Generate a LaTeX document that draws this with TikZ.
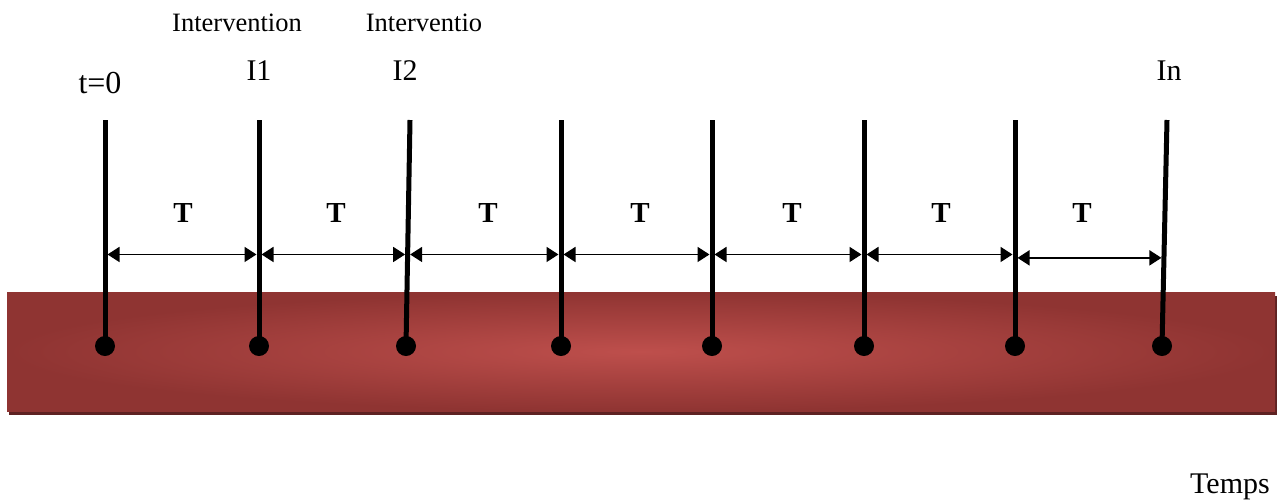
\documentclass[tikz,border=0pt]{standalone}
\usepackage{fontspec}
\setmainfont{Liberation Serif}
\usetikzlibrary{arrows.meta}
\definecolor{barEdge}{HTML}{8F3432}
\definecolor{barMid}{HTML}{BE4F4C}
\definecolor{barShadow}{HTML}{5E2222}
\tikzset{
  stem/.style={line width=5pt, line cap=butt},
  pin/.style={circle, fill=black, inner sep=0pt, minimum size=20pt},
  span/.style={line width=1.7pt, {Triangle[length=12pt,width=15pt]}-{Triangle[length=12pt,width=15pt]}, shorten <=2.5pt, shorten >=2.5pt},
  lbl/.style={font=\fontsize{30}{34}\selectfont, anchor=base, inner sep=0pt},
  small/.style={font=\fontsize{26.5}{30}\selectfont, anchor=base, inner sep=0pt},
  per/.style={font=\fontsize{29}{33}\selectfont\bfseries, anchor=base, inner sep=0pt}
}
\begin{document}
\begin{tikzpicture}[x=1pt, y=-1pt]
\useasboundingbox (0,0) rectangle (1277,499);
% time bar with its drop shadow
\fill[barShadow] (9,296) rectangle (1277,415);
\shade[inner color=barMid, outer color=barEdge] (7,292) rectangle (1275,411);
% intervention stems: top ends and pins
\foreach \i/\xt/\xb in {1/105/105, 2/259/259, 3/410/406, 4/561/561, 5/712/712, 6/864/864, 7/1015/1015, 8/1167/1162} {
  \coordinate (top\i) at (\xt,120);
  \node[pin] (pin\i) at (\xb,346) {};
  \draw[stem] (top\i) -- (pin\i.center);
}
% crossing points of the period arrows on each stem
\foreach \i in {1,...,6} {
  \path (top\i) -- (pin\i.center) coordinate[pos=0.595] (r\i);
}
\foreach \i in {2,...,7} {
  \path (top\i) -- (pin\i.center) coordinate[pos=0.595] (l\i);
}
\path (top7) -- (pin7.center) coordinate[pos=0.61] (r7);
\path (top8) -- (pin8.center) coordinate[pos=0.61] (l8);
% period arrows
\foreach \i/\j in {1/2, 2/3, 3/4, 4/5, 5/6, 6/7, 7/8} {
  \draw[span] (r\i) -- (l\j);
}
% period labels
\foreach \i/\x in {1/183, 2/336, 3/488, 4/640, 5/792, 6/941, 7/1082} {
  \node[per] (T\i) at (\x,222) {T};
}
% stem labels
\node[font=\fontsize{32}{36}\selectfont, anchor=base, inner sep=0pt] (t0) at (100,93) {t=0};
\node[lbl] (I1) at (259,80) {I1};
\node[lbl] (I2) at (405,80) {I2};
\node[lbl] (In) at (1169,80) {In};
\node[small] (int1) at (237,31) {Intervention};
\node[small] (int2) at (424,31) {Interventio};
\node[font=\fontsize{30}{34}\selectfont, anchor=base, inner sep=0pt] (temps) at (1230,493) {Temps};
\end{tikzpicture}
\end{document}
